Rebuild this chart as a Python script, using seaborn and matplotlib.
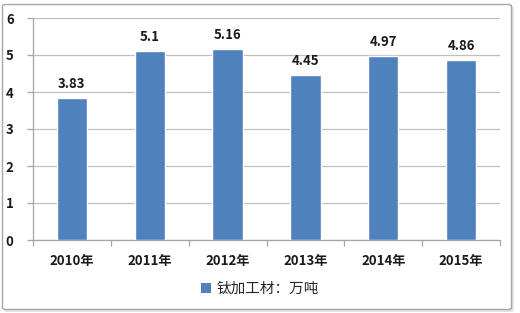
import matplotlib
matplotlib.use("Agg")
import matplotlib.pyplot as plt
from matplotlib.patches import FancyBboxPatch, Patch
import seaborn as sns
import pandas as pd

years = ["2010年", "2011年", "2012年", "2013年", "2014年", "2015年"]
values = [3.83, 5.1, 5.16, 4.45, 4.97, 4.86]
bar_labels = ["3.83", "5.1", "5.16", "4.45", "4.97", "4.86"]
series_name = "钛加工材：万吨"
yticks = [0, 1, 2, 3, 4, 5, 6]

sns.set_style("white")
plt.rcParams['font.family'] = ['Noto Sans CJK SC', 'DejaVu Sans']

W, H = 520, 313
fig = plt.figure(figsize=(W / 100, H / 100), dpi=100)
fig.patch.set_facecolor("white")

# outer frame with shadow
shadow = FancyBboxPatch((4 / W, 1 / H), 510 / W, 306 / H,
                        boxstyle="round,pad=0,rounding_size=0.006",
                        transform=fig.transFigure, facecolor="#E4E4E4",
                        edgecolor="none", zorder=0)
frame = FancyBboxPatch((2.5 / W, 3.5 / H), 509 / W, 305 / H,
                       boxstyle="round,pad=0,rounding_size=0.006",
                       transform=fig.transFigure, facecolor="white",
                       edgecolor="#A6A6A6", linewidth=1.0, zorder=1)
fig.patches.extend([shadow, frame])

ax = fig.add_axes([33 / W, (H - 240) / H, 467 / W, 222 / H])
ax.set_zorder(2)
ax.patch.set_alpha(0)

df = pd.DataFrame({"year": years, "value": values})
color = "#4F81BD"
sns.barplot(data=df, x="year", y="value", color=color, width=0.39,
            saturation=1, ax=ax, zorder=3)

ax.bar_label(ax.containers[0], labels=bar_labels, padding=5,
             fontsize=9.5, fontweight="bold", color="#1a1a1a")

ax.set_ylim(0, 6)
ax.set_xlim(-0.5, len(years) - 0.5)
ax.set_yticks(yticks)
ax.set_yticklabels([str(t) for t in yticks], fontsize=9.5, fontweight="bold")
ax.yaxis.grid(True, color="#BFBFBF", linewidth=0.9)
ax.set_axisbelow(True)
ax.set_xlabel("")
ax.set_ylabel("")

for s in ["top", "right"]:
    ax.spines[s].set_visible(False)
for s in ["left", "bottom"]:
    ax.spines[s].set_color("#A6A6A6")
    ax.spines[s].set_linewidth(0.9)

ax.tick_params(axis="y", which="major", length=4, color="#A6A6A6",
               width=0.9, pad=10, labelcolor="#1a1a1a", left=True)
# x labels at centers, ticks at boundaries
ax.set_xticks(range(len(years)))
ax.set_xticklabels(years, fontsize=9.5, fontweight="bold", color="#1a1a1a")
ax.tick_params(axis="x", which="major", length=0, pad=10)
ax.set_xticks([i - 0.5 for i in range(len(years) + 1)], minor=True)
ax.tick_params(axis="x", which="minor", length=4, color="#A6A6A6",
               width=0.9, bottom=True)

handle = Patch(facecolor=color, edgecolor="none", label=series_name)
fig.legend(handles=[handle], loc="center", bbox_to_anchor=(0.5, (H - 289) / H),
           frameon=False, fontsize=10.5, handlelength=0.7, handleheight=0.7,
           handletextpad=0.4, borderpad=0)

fig.savefig("out.png", dpi=100, facecolor="white")
